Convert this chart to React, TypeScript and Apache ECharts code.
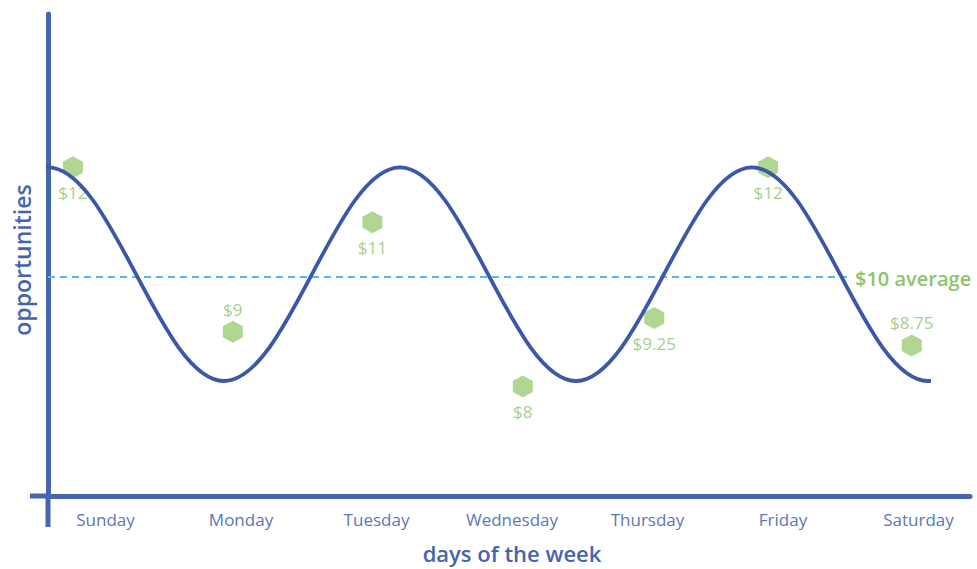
import React, { useEffect, useRef } from "react";
import * as echarts from "echarts";

// ---- data ----
const days = ["Sunday", "Monday", "Tuesday", "Wednesday", "Thursday", "Friday", "Saturday"];
const prices = [12, 9, 11, 8, 9.25, 12, 8.75];
const priceLabels = ["$12", "$9", "$11", "$8", "$9.25", "$12", "$8.75"];
// horizontal place of each price marker, in days (0 = Sunday ... 6 = Saturday)
const pointDayPosition = [-0.24, 0.94, 1.97, 3.08, 4.05, 4.89, 5.95];
const averagePrice = 10;
const averageLabel = "$10 average";
// opportunity wave: alternating crests and troughs, one step = half a period
const wavePhase = [-1, 0, 1, 2, 3, 4, 5, 6];
const waveLevel = [8.1, 12, 8.1, 12, 8.1, 12, 8.1, 12];
const yAxisTitle = "opportunities";
const xAxisTitle = "days of the week";

// ---- layout / style ----
const labelSide = ["bottom", "top", "bottom", "bottom", "bottom", "bottom", "top"];
const Y_MIN = 6;
const Y_MAX = 14.8;
const DAY_MIN = -0.424;
const DAY_MAX = 6.38;
const AXIS = "#4565ae";
const CURVE = "#3a58a7";
const DAYTEXT = "#5a77b9";
const GREEN = "#8cc46b";
const HEX = "#9dcc77";
const DASH = "#55bce8";
const FONT = "'Open Sans', 'Noto Sans', sans-serif";
const HEXAGON = "path://M0,-1 L0.866,-0.5 L0.866,0.5 L0,1 L-0.866,0.5 L-0.866,-0.5 Z";

export default function App() {
  const ref = useRef<HTMLDivElement>(null);

  useEffect(() => {
    if (!ref.current) return;
    const chart = echarts.init(ref.current, undefined, { renderer: "svg" });

    const option: any = {
      animation: false,
      backgroundColor: "#ffffff",
      textStyle: { fontFamily: FONT },
      grid: [
        { left: 48, right: 7, top: 14, bottom: 73 },
        { left: 48, right: 49, top: 14, bottom: 73 },
        { left: 105.5, right: 58.5, top: 14, bottom: 73 },
      ],
      xAxis: [
        {
          type: "value",
          gridIndex: 0,
          min: DAY_MIN,
          max: DAY_MAX,
          axisLine: { show: true, onZero: false, lineStyle: { color: AXIS, width: 5 } },
          axisTick: { show: false },
          axisLabel: { show: false },
          splitLine: { show: false },
        },
        { type: "value", gridIndex: 1, min: 0, max: 5, show: false },
        {
          type: "category",
          gridIndex: 2,
          data: days,
          boundaryGap: false,
          axisLine: { show: false },
          axisTick: { show: false },
          splitLine: { show: false },
          axisLabel: { color: DAYTEXT, fontSize: 17, margin: 15, fontFamily: FONT },
        },
      ],
      yAxis: [
        {
          type: "value",
          gridIndex: 0,
          min: Y_MIN,
          max: Y_MAX,
          axisLine: { show: true, onZero: false, lineStyle: { color: AXIS, width: 5 } },
          axisTick: { show: false },
          axisLabel: { show: false },
          splitLine: { show: false },
        },
        { type: "value", gridIndex: 1, min: Y_MIN, max: Y_MAX, show: false },
        { type: "value", gridIndex: 2, min: Y_MIN, max: Y_MAX, show: false },
      ],
      series: [
        {
          name: "price",
          type: "scatter",
          xAxisIndex: 0,
          yAxisIndex: 0,
          z: 1,
          symbol: HEXAGON,
          symbolSize: [20, 22],
          itemStyle: { color: HEX },
          data: prices.map((v, i) => ({
            value: [pointDayPosition[i], v],
            label: {
              show: true,
              position: labelSide[i],
              distance: labelSide[i] === "top" ? 3 : 6,
              formatter: priceLabels[i],
              color: GREEN,
              fontSize: 17,
              fontFamily: FONT,
            },
          })),
          markLine: {
            silent: true,
            z: 1,
            symbol: "none",
            label: { show: false },
            lineStyle: { color: DASH, width: 2, type: [7, 5] },
            data: [{ yAxis: averagePrice }],
          },
        },
        {
          name: "opportunities",
          type: "line",
          xAxisIndex: 1,
          yAxisIndex: 1,
          z: 3,
          smooth: 0.36,
          showSymbol: false,
          symbol: "none",
          clip: true,
          lineStyle: { color: CURVE, width: 3.8 },
          data: wavePhase.map((p, i) => [p, waveLevel[i]]),
        },
      ],
      graphic: [
        {
          type: "line",
          z: 10,
          shape: { x1: 30, y1: 496, x2: 48, y2: 496 },
          style: { stroke: AXIS, lineWidth: 5 },
        },
        {
          type: "line",
          z: 10,
          shape: { x1: 48, y1: 494, x2: 48, y2: 527 },
          style: { stroke: AXIS, lineWidth: 5 },
        },
        {
          type: "text",
          x: 22,
          y: 260,
          rotation: Math.PI / 2,
          style: {
            text: yAxisTitle,
            font: `600 23px ${FONT}`,
            fill: AXIS,
            align: "center",
            verticalAlign: "middle",
          },
        },
        {
          type: "text",
          x: 512,
          y: 553,
          style: {
            text: xAxisTitle,
            font: `600 22px ${FONT}`,
            fill: AXIS,
            align: "center",
            verticalAlign: "middle",
          },
        },
        {
          type: "text",
          x: 852,
          y: 278,
          z: 20,
          style: {
            text: averageLabel,
            font: `600 20px ${FONT}`,
            fill: GREEN,
            align: "left",
            verticalAlign: "middle",
            backgroundColor: "#ffffff",
            padding: [2, 6, 2, 3],
          },
        },
      ],
    };

    chart.setOption(option);
    return () => chart.dispose();
  }, []);

  return (
    <div
      ref={ref}
      style={{ position: "fixed", left: 0, top: 0, width: 977, height: 569 }}
    />
  );
}
